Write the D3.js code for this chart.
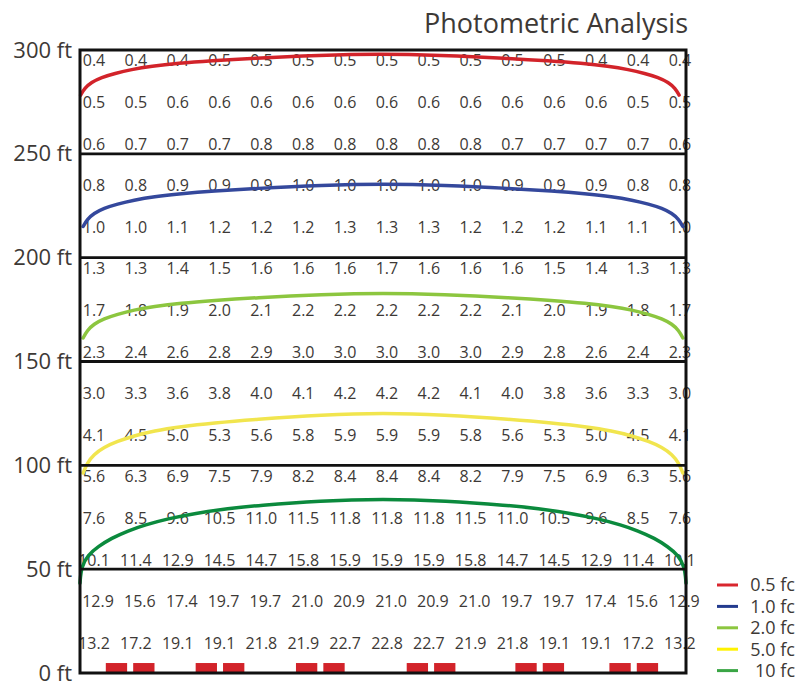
<!DOCTYPE html>
<html>
<head>
<meta charset="utf-8">
<script src="https://cdn.jsdelivr.net/npm/d3@7"></script>
<style>
  body { margin: 0; background: #fff; }
  text { font-family: "Open Sans", sans-serif; fill: #3d3936; }
</style>
</head>
<body>
<div id="chart"></div>
<script>
// illuminance grid (fc), rows from top (far) to bottom (near the poles)
const gridValues = [
  [0.4, 0.4, 0.4, 0.5, 0.5, 0.5, 0.5, 0.5, 0.5, 0.5, 0.5, 0.5, 0.4, 0.4, 0.4],
  [0.5, 0.5, 0.6, 0.6, 0.6, 0.6, 0.6, 0.6, 0.6, 0.6, 0.6, 0.6, 0.6, 0.5, 0.5],
  [0.6, 0.7, 0.7, 0.7, 0.8, 0.8, 0.8, 0.8, 0.8, 0.8, 0.7, 0.7, 0.7, 0.7, 0.6],
  [0.8, 0.8, 0.9, 0.9, 0.9, 1.0, 1.0, 1.0, 1.0, 1.0, 0.9, 0.9, 0.9, 0.8, 0.8],
  [1.0, 1.0, 1.1, 1.2, 1.2, 1.2, 1.3, 1.3, 1.3, 1.2, 1.2, 1.2, 1.1, 1.1, 1.0],
  [1.3, 1.3, 1.4, 1.5, 1.6, 1.6, 1.6, 1.7, 1.6, 1.6, 1.6, 1.5, 1.4, 1.3, 1.3],
  [1.7, 1.8, 1.9, 2.0, 2.1, 2.2, 2.2, 2.2, 2.2, 2.2, 2.1, 2.0, 1.9, 1.8, 1.7],
  [2.3, 2.4, 2.6, 2.8, 2.9, 3.0, 3.0, 3.0, 3.0, 3.0, 2.9, 2.8, 2.6, 2.4, 2.3],
  [3.0, 3.3, 3.6, 3.8, 4.0, 4.1, 4.2, 4.2, 4.2, 4.1, 4.0, 3.8, 3.6, 3.3, 3.0],
  [4.1, 4.5, 5.0, 5.3, 5.6, 5.8, 5.9, 5.9, 5.9, 5.8, 5.6, 5.3, 5.0, 4.5, 4.1],
  [5.6, 6.3, 6.9, 7.5, 7.9, 8.2, 8.4, 8.4, 8.4, 8.2, 7.9, 7.5, 6.9, 6.3, 5.6],
  [7.6, 8.5, 9.6, 10.5, 11.0, 11.5, 11.8, 11.8, 11.8, 11.5, 11.0, 10.5, 9.6, 8.5, 7.6],
  [10.1, 11.4, 12.9, 14.5, 14.7, 15.8, 15.9, 15.9, 15.9, 15.8, 14.7, 14.5, 12.9, 11.4, 10.1],
  [12.9, 15.6, 17.4, 19.7, 19.7, 21.0, 20.9, 21.0, 20.9, 21.0, 19.7, 19.7, 17.4, 15.6, 12.9],
  [13.2, 17.2, 19.1, 19.1, 21.8, 21.9, 22.7, 22.8, 22.7, 21.9, 21.8, 19.1, 19.1, 17.2, 13.2]
];

const distanceTicks = [0, 50, 100, 150, 200, 250, 300];

// pole positions along the road (ft), two heads per pole
const poleX = [24, 67, 115, 168, 220, 265];

// iso-footcandle contours, points (x ft, y ft)
const isoLevels = ["0.5 fc", "1.0 fc", "2.0 fc", "5.0 fc", "10 fc"];
const iso05 = [
  [0.3, 278.3], [2.2, 281.6], [5.4, 284.4], [10.2, 286.8], [16.6, 288.7], [24.5, 290.6], [34.1, 292.2],
  [46.9, 293.6], [62.8, 294.8], [82, 296.0], [115, 297.5], [143.5, 298.1], [172, 297.5], [205, 296.0],
  [224.2, 294.8], [240.1, 293.6], [252.9, 292.2], [262.5, 290.6], [270.4, 288.7], [276.8, 286.8],
  [281.6, 284.4], [284.8, 281.6], [286.7, 278.3]
];
const iso10 = [
  [1.5, 215.0], [3.4, 218.4], [6.6, 221.3], [11.4, 223.8], [17.8, 225.8], [25.7, 227.7], [35.3, 229.4],
  [48.1, 230.8], [64, 232.1], [83.2, 233.3], [116.2, 234.9], [145, 235.5], [173.8, 234.9], [206.8, 233.3],
  [226, 232.1], [241.9, 230.8], [254.7, 229.4], [264.3, 227.7], [272.2, 225.8], [278.6, 223.8],
  [283.4, 221.3], [286.6, 218.4], [288.5, 215.0]
];
const iso20 = [
  [1.5, 161.3], [3.4, 164.9], [6.6, 168.0], [11.4, 170.6], [17.8, 172.7], [25.7, 174.8], [35.3, 176.5],
  [48.1, 178.1], [64, 179.4], [83.2, 180.7], [116.2, 182.3], [145, 183.0], [173.8, 182.3], [206.8, 180.7],
  [226, 179.4], [241.9, 178.1], [254.7, 176.5], [264.3, 174.8], [272.2, 172.7], [278.6, 170.6],
  [283.4, 168.0], [286.6, 164.9], [288.5, 161.3]
];
const iso50 = [
  [1.5, 96.3], [3.4, 101.1], [6.6, 105.2], [11.4, 108.7], [17.8, 111.5], [25.7, 114.2], [35.3, 116.6],
  [48.1, 118.6], [64, 120.4], [83.2, 122.1], [116.2, 124.3], [145, 125.2], [173.8, 124.3], [206.8, 122.1],
  [226, 120.4], [241.9, 118.6], [254.7, 116.6], [264.3, 114.2], [272.2, 111.5], [278.6, 108.7],
  [283.4, 105.2], [286.6, 101.1], [288.5, 96.3]
];
const iso100 = [
  [0, 43.3], [0.6, 51.2], [3.8, 56.8], [8.6, 60.8], [15, 64.9], [23, 68.5], [31, 71.3], [42, 74.3],
  [55, 76.9], [71, 79.2], [85, 80.7], [115, 83.0], [145, 83.8], [175, 83.0], [205, 80.7], [219, 79.2],
  [235, 76.9], [248, 74.3], [259, 71.3], [267, 68.5], [275, 64.9], [281.4, 60.8], [286.2, 56.8],
  [289.4, 51.2], [290, 43.3]
];
const isoLines = [iso05, iso10, iso20, iso50, iso100];
const lineColors = ["#d2232a", "#34489c", "#8cc63f", "#f1e54e", "#0b8a3d"];
const legendColors = ["#d9262e", "#233b8e", "#8cc63f", "#fff200", "#3aa545"];

const W = 799, H = 681;
const plot = { left: 80, right: 686, top: 50, bottom: 673 };

const x = d3.scaleLinear().domain([0, 290]).range([plot.left, plot.right]);
const y = d3.scaleLinear().domain([0, 300]).range([plot.bottom, plot.top]);

// label cell positions
const colPos = d3.scalePoint().domain(d3.range(15)).range([x(6.7), x(287.1)]);
const rowPos = d3.scalePoint().domain(d3.range(15)).range([y(294.9), y(14.4)]);

const svg = d3.select("#chart").append("svg")
  .attr("width", W)
  .attr("height", H);

svg.append("text")
  .attr("x", 688)
  .attr("y", 33)
  .attr("text-anchor", "end")
  .style("font-size", "27px")
  .text("Photometric Analysis");

// grid values
const rows = svg.append("g").selectAll("g")
  .data(gridValues)
  .join("g")
  .attr("transform", (d, i) => `translate(${i === 13 ? 4 : 0},${rowPos(i)})`);

rows.selectAll("text")
  .data(d => d)
  .join("text")
  .attr("x", (d, i) => colPos(i))
  .attr("dy", "0.36em")
  .attr("text-anchor", "middle")
  .style("font-size", "16px")
  .text(d => d.toFixed(1));

// fixtures
const heads = poleX.flatMap(p => [p - 6.55, p + 6.55]);
svg.append("g").selectAll("rect")
  .data(heads)
  .join("rect")
  .attr("x", d => x(d - 5.1))
  .attr("width", d => x(d + 5.1) - x(d - 5.1))
  .attr("y", y(4.8))
  .attr("height", y(0) - y(4.8))
  .attr("fill", "#d2232a");

// contours
const line = d3.line()
  .x(d => x(d[0]))
  .y(d => y(d[1]))
  .curve(d3.curveBasis);

svg.append("g").selectAll("path")
  .data(isoLines)
  .join("path")
  .attr("d", line)
  .attr("fill", "none")
  .attr("stroke", (d, i) => lineColors[i])
  .attr("stroke-width", 3.5)
  .attr("stroke-linecap", "round");

// horizontal rules every 50 ft + frame
svg.append("g").selectAll("line")
  .data(distanceTicks.slice(1, -1))
  .join("line")
  .attr("x1", plot.left)
  .attr("x2", plot.right)
  .attr("y1", d => y(d))
  .attr("y2", d => y(d))
  .attr("stroke", "#111")
  .attr("stroke-width", 2.8);

svg.append("rect")
  .attr("x", plot.left)
  .attr("y", plot.top)
  .attr("width", plot.right - plot.left)
  .attr("height", plot.bottom - plot.top)
  .attr("fill", "none")
  .attr("stroke", "#111")
  .attr("stroke-width", 3);

// distance axis
const yAxis = svg.append("g")
  .attr("transform", `translate(${plot.left},0)`)
  .call(d3.axisLeft(y).tickValues(distanceTicks).tickSize(0).tickPadding(8).tickFormat(d => d + " ft"));
yAxis.select(".domain").remove();
yAxis.selectAll("text")
  .attr("fill", null)
  .style("font-size", "22px")
  .style("font-family", "'Open Sans', sans-serif");

// legend
const legend = svg.append("g").selectAll("g")
  .data(isoLevels)
  .join("g")
  .attr("transform", (d, i) => `translate(0,${585 + i * 21.4})`);

legend.append("line")
  .attr("x1", 717)
  .attr("x2", 738)
  .attr("stroke", (d, i) => legendColors[i])
  .attr("stroke-width", 3);

legend.append("text")
  .attr("x", 795)
  .attr("dy", "0.36em")
  .attr("text-anchor", "end")
  .style("font-size", "18px")
  .text(d => d);
</script>
</body>
</html>
